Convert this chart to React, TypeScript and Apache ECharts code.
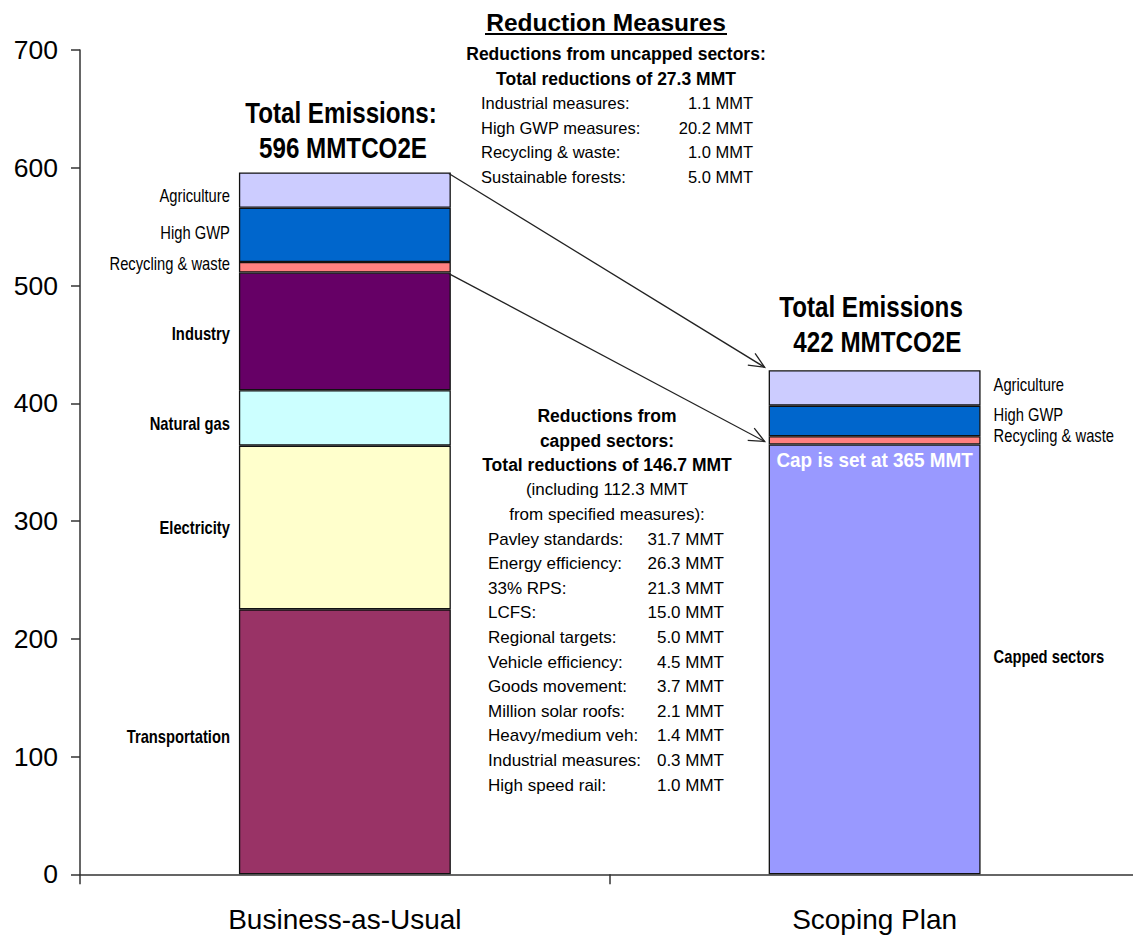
import React, { useEffect, useRef } from "react";
import * as echarts from "echarts";

// ---------- data ----------
const categories = ["Business-as-Usual", "Scoping Plan"];
const transportation = [225, null];
const electricity = [139, null];
const naturalGas = [47, null];
const industry = [100, null];
const cappedSectors = [null, 365];
const recyclingWaste = [9, 7];
const highGWP = [46, 26];
const agriculture = [30, 30];
const yTicks = { min: 0, max: 700, interval: 100 };

const uncappedHeader = ["Reductions from uncapped sectors:", "Total reductions of 27.3 MMT"];
const uncappedNames = ["Industrial measures:", "High GWP measures:", "Recycling & waste:", "Sustainable forests:"];
const uncappedValues = ["1.1 MMT", "20.2 MMT", "1.0 MMT", "5.0 MMT"];

const cappedHeaderBold = ["Reductions from", "capped sectors:", "Total reductions of 146.7 MMT"];
const cappedHeaderNormal = ["(including 112.3 MMT", "from specified measures):"];
const cappedNames = [
  "Pavley standards:", "Energy efficiency:", "33% RPS:", "LCFS:", "Regional targets:",
  "Vehicle efficiency:", "Goods movement:", "Million solar roofs:", "Heavy/medium veh:",
  "Industrial measures:", "High speed rail:",
];
const cappedValues = [
  "31.7 MMT", "26.3 MMT", "21.3 MMT", "15.0 MMT", "5.0 MMT", "4.5 MMT",
  "3.7 MMT", "2.1 MMT", "1.4 MMT", "0.3 MMT", "1.0 MMT",
];
const capText = "Cap is set at 365 MMT";
const bauTitle = ["Total Emissions:", "596 MMTCO2E"];
const planTitle = ["Total Emissions", " 422 MMTCO2E"];

// ---------- styles ----------
const REG = "'Liberation Sans', Arial, sans-serif";
const NARROW_SCALE = 0.82;

const sum = (arrs: (number | null)[][], i: number) =>
  arrs.reduce((s, a) => s + (a[i] ?? 0), 0);

export default function App() {
  const ref = useRef<HTMLDivElement>(null);

  useEffect(() => {
    if (!ref.current) return;
    const chart = echarts.init(ref.current, null, { renderer: "svg" });

    const stackOrder = [
      { name: "Transportation", data: transportation, color: "#993366", bold: true, off: [-5, 0] },
      { name: "Electricity", data: electricity, color: "#FFFFCC", bold: true, off: [0, 0] },
      { name: "Natural gas", data: naturalGas, color: "#CCFFFF", bold: true, off: [5, 0] },
      { name: "Industry", data: industry, color: "#660066", bold: true, off: [2, 0] },
      { name: "Capped sectors", data: cappedSectors, color: "#9999FF", bold: true, off: [0, -3] },
      { name: "Recycling & waste", data: recyclingWaste, color: "#FF8080", bold: false, off: [-4, -5] },
      { name: "High GWP", data: highGWP, color: "#0066CC", bold: false, off: [-2, -6] },
      { name: "Agriculture", data: agriculture, color: "#CCCCFF", bold: false, off: [5, -4] },
    ];

    const barSeries = stackOrder.map((s) => ({
      type: "bar",
      name: s.name,
      stack: "total",
      barWidth: "40%",
      z: 2,
      itemStyle: { color: s.color, borderColor: "#111", borderWidth: 1.3 },
      data: s.data.map((v) => (v == null ? "-" : v)),
    }));

    // segment label anchors (category index, middle value, series index)
    const labelItems: number[][] = [];
    categories.forEach((_, ci) => {
      let cum = 0;
      stackOrder.forEach((s, si) => {
        const v = s.data[ci];
        if (v == null) return;
        labelItems.push([ci, cum + v / 2, si]);
        cum += v;
      });
    });

    const labelSeries = {
      type: "custom",
      coordinateSystem: "cartesian2d",
      silent: true,
      clip: false,
      z: 10,
      encode: { x: 0, y: 1 },
      data: labelItems,
      renderItem: (params: any, api: any) => {
        const ci = api.value(0);
        const s = stackOrder[api.value(2)];
        const p = api.coord([ci, api.value(1)]);
        const bw = api.size([1, 0])[0] * 0.4;
        const left = ci === 0;
        return {
          type: "text",
          x: left ? p[0] - bw / 2 - 9 : p[0] + bw / 2 + 13,
          y: p[1] + s.off[ci],
          scaleX: NARROW_SCALE,
          style: {
            text: s.name,
            x: 0,
            y: 0,
            align: left ? "right" : "left",
            verticalAlign: "middle",
            font: `${s.bold ? "bold " : ""}18px ${REG}`,
            fill: "#000",
          },
        };
      },
    };

    const bauTop = sum([transportation, electricity, naturalGas, industry, recyclingWaste, highGWP, agriculture], 0);
    const bauIndustryTop = sum([transportation, electricity, naturalGas, industry], 0);
    const planTop = sum([cappedSectors, recyclingWaste, highGWP, agriculture], 1);
    const planCapTop = sum([cappedSectors], 1);

    const arrowSeries = {
      type: "custom",
      coordinateSystem: "cartesian2d",
      silent: true,
      clip: false,
      z: 10,
      encode: { x: 0, y: 1 },
      data: [
        [0, bauTop, planTop],
        [0, bauIndustryTop, planCapTop],
      ],
      renderItem: (params: any, api: any) => {
        const bw = api.size([1, 0])[0] * 0.4;
        const a = api.coord([0, api.value(1)]);
        const b = api.coord([1, api.value(2)]);
        const x1 = a[0] + bw / 2 - 2;
        const y1 = a[1] + 1;
        const x2 = b[0] - bw / 2 - 4;
        const y2 = b[1] - 3;
        const ang = Math.atan2(y2 - y1, x2 - x1);
        const L = 17;
        const spread = 0.42;
        const h1 = [x2 - L * Math.cos(ang - spread), y2 - L * Math.sin(ang - spread)];
        const h2 = [x2 - L * Math.cos(ang + spread), y2 - L * Math.sin(ang + spread)];
        return {
          type: "group",
          children: [
            { type: "line", shape: { x1, y1, x2, y2 }, style: { stroke: "#222", lineWidth: 1.3 } },
            {
              type: "polyline",
              shape: { points: [h1, [x2, y2], h2] },
              style: { stroke: "#222", lineWidth: 1.3, fill: "none" },
            },
          ],
        };
      },
    };

    const capSeries = {
      type: "custom",
      coordinateSystem: "cartesian2d",
      silent: true,
      clip: false,
      z: 10,
      encode: { x: 0, y: 1 },
      data: [[1, planCapTop]],
      renderItem: (params: any, api: any) => {
        const p = api.coord([1, api.value(1)]);
        return {
          type: "text",
          x: p[0],
          y: p[1] + 5,
          scaleX: 0.9,
          style: {
            text: capText,
            x: 0,
            y: 0,
            align: "center",
            verticalAlign: "top",
            fill: "#fff",
            font: `bold 21px ${REG}`,
          },
        };
      },
    };

    const txt = (text: string, x: number, y: number, font: string, align = "center", scaleX = 1) => ({
      type: "text",
      silent: true,
      x,
      y,
      scaleX,
      style: {
        text,
        x: 0,
        y: 0,
        font,
        fill: "#000",
        align,
        verticalAlign: "middle",
      },
    });

    const graphics: any[] = [];
    graphics.push(txt("Reduction Measures", 606, 22, `bold 24.5px ${REG}`));
    graphics.push({
      type: "line",
      silent: true,
      shape: { x1: 485, y1: 34, x2: 727, y2: 34 },
      style: { stroke: "#000", lineWidth: 2 },
    });
    const upY0 = 54;
    const step = 24.6;
    uncappedHeader.forEach((t, i) => graphics.push(txt(t, 616, upY0 + i * step, `bold 17.5px ${REG}`)));
    uncappedNames.forEach((t, i) => {
      const y = upY0 + (i + 2) * step;
      graphics.push(txt(t, 481, y, `16.5px ${REG}`, "left"));
      graphics.push(txt(uncappedValues[i], 753, y, `16.5px ${REG}`, "right"));
    });

    const cY0 = 416;
    cappedHeaderBold.forEach((t, i) => graphics.push(txt(t, 607, cY0 + i * step, `bold 17.5px ${REG}`)));
    cappedHeaderNormal.forEach((t, i) => graphics.push(txt(t, 607, cY0 + (i + 3) * step, `17px ${REG}`)));
    cappedNames.forEach((t, i) => {
      const y = cY0 + (i + 5) * step;
      graphics.push(txt(t, 488, y, `17px ${REG}`, "left"));
      graphics.push(txt(cappedValues[i], 724, y, `17px ${REG}`, "right"));
    });

    const titleFont = `bold 29.5px ${REG}`;
    graphics.push(txt(bauTitle[0], 341, 113, titleFont, "center", NARROW_SCALE));
    graphics.push(txt(bauTitle[1], 343, 148, titleFont, "center", NARROW_SCALE));
    graphics.push(txt(planTitle[0], 871, 307, titleFont, "center", NARROW_SCALE));
    graphics.push(txt(planTitle[1], 874, 342, titleFont, "center", NARROW_SCALE));

    chart.setOption({
      animation: false,
      backgroundColor: "#fff",
      grid: { left: 80, right: 0.5, top: 50, bottom: 63.7, containLabel: false },
      xAxis: {
        type: "category",
        data: categories,
        axisLine: { show: true, lineStyle: { color: "#333", width: 1.5 } },
        axisTick: { show: true, alignWithLabel: false, length: 10, lineStyle: { color: "#333", width: 1.5 } },
        axisLabel: { fontFamily: REG, fontSize: 28, color: "#000", margin: 31 },
        splitLine: { show: false },
      },
      yAxis: {
        type: "value",
        min: yTicks.min,
        max: yTicks.max,
        interval: yTicks.interval,
        axisLine: { show: true, lineStyle: { color: "#333", width: 1.5 } },
        axisTick: { show: true, inside: false, length: 9, lineStyle: { color: "#333", width: 1.5 } },
        axisLabel: { fontFamily: REG, fontSize: 26.5, color: "#000", margin: 22 },
        splitLine: { show: false },
      },
      series: [...barSeries, labelSeries, arrowSeries, capSeries],
      graphic: graphics,
    });

    return () => chart.dispose();
  }, []);

  return (
    <div
      style={{
        position: "absolute",
        left: 0,
        top: 0,
        width: 1133,
        height: 938,
        overflow: "hidden",
        background: "#fff",
      }}
    >
      <div ref={ref} style={{ width: 1140, height: 938 }} />
    </div>
  );
}
